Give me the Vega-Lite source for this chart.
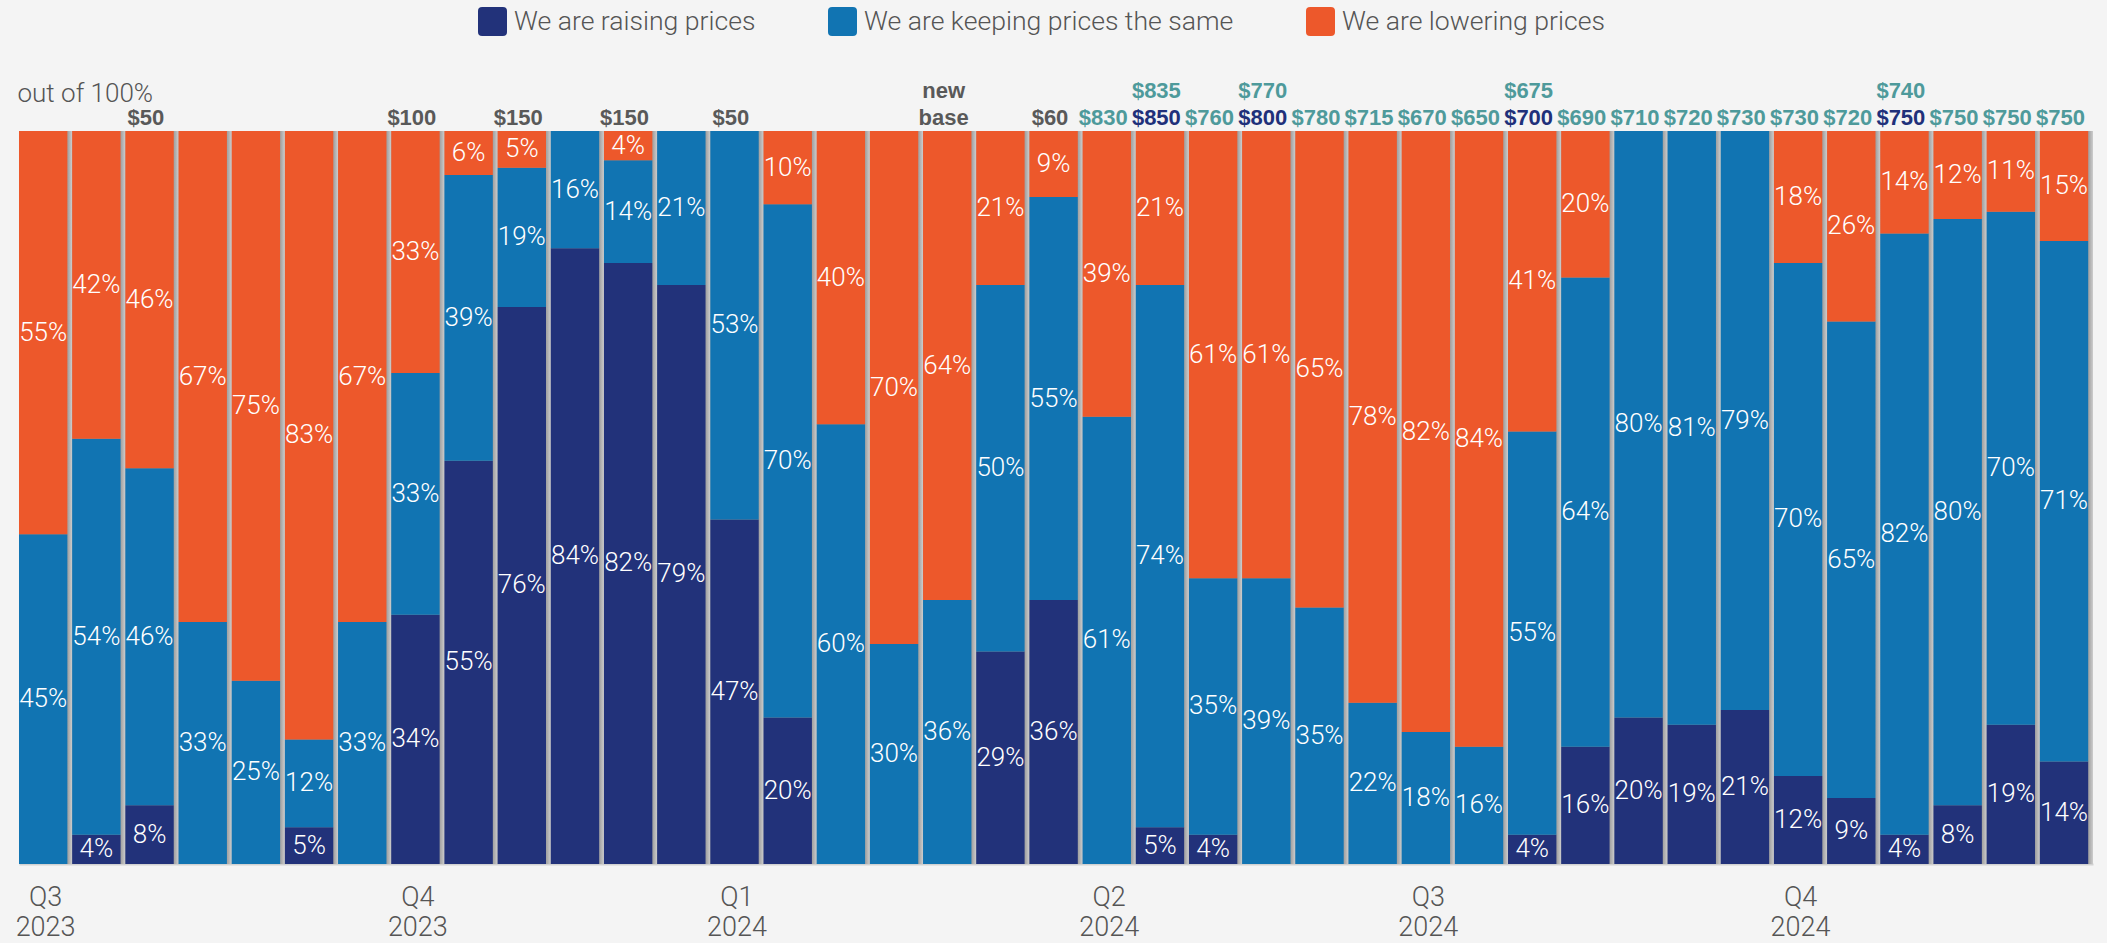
{
  "$schema": "https://vega.github.io/schema/vega-lite/v6.json",
  "autosize": {"type": "none"},
  "padding": {"left": 19, "top": 131, "right": 14, "bottom": 79},
  "width": 2074,
  "height": 733,
  "background": "#f4f4f4",
  "datasets": {
    "categories": [
      {"status": "raising", "rank": 1, "name": "We are raising prices"},
      {"status": "keeping", "rank": 2, "name": "We are keeping prices the same"},
      {"status": "lowering", "rank": 3, "name": "We are lowering prices"}
    ],
    "bars": [
      {"bar": 1, "raising": 0, "keeping": 0.45, "lowering": 0.55, "quarter": "Q3\n2023"},
      {"bar": 2, "raising": 0.04, "keeping": 0.54, "lowering": 0.42},
      {"bar": 3, "raising": 0.08, "keeping": 0.46, "lowering": 0.46, "price": "$50", "priceType": "increase"},
      {"bar": 4, "raising": 0, "keeping": 0.33, "lowering": 0.67},
      {"bar": 5, "raising": 0, "keeping": 0.25, "lowering": 0.75},
      {"bar": 6, "raising": 0.05, "keeping": 0.12, "lowering": 0.83},
      {"bar": 7, "raising": 0, "keeping": 0.33, "lowering": 0.67},
      {"bar": 8, "raising": 0.34, "keeping": 0.33, "lowering": 0.33, "price": "$100", "priceType": "increase", "quarter": "Q4\n2023"},
      {"bar": 9, "raising": 0.55, "keeping": 0.39, "lowering": 0.06},
      {"bar": 10, "raising": 0.76, "keeping": 0.19, "lowering": 0.05, "price": "$150", "priceType": "increase"},
      {"bar": 11, "raising": 0.84, "keeping": 0.16, "lowering": 0},
      {"bar": 12, "raising": 0.82, "keeping": 0.14, "lowering": 0.04, "price": "$150", "priceType": "increase"},
      {"bar": 13, "raising": 0.79, "keeping": 0.21, "lowering": 0},
      {"bar": 14, "raising": 0.47, "keeping": 0.53, "lowering": 0, "price": "$50", "priceType": "increase", "quarter": "Q1\n2024"},
      {"bar": 15, "raising": 0.20, "keeping": 0.70, "lowering": 0.10},
      {"bar": 16, "raising": 0, "keeping": 0.60, "lowering": 0.40},
      {"bar": 17, "raising": 0, "keeping": 0.30, "lowering": 0.70},
      {"bar": 18, "raising": 0, "keeping": 0.36, "lowering": 0.64, "price": "base", "priceType": "increase", "price2": "new", "price2Type": "increase"},
      {"bar": 19, "raising": 0.29, "keeping": 0.50, "lowering": 0.21},
      {"bar": 20, "raising": 0.36, "keeping": 0.55, "lowering": 0.09, "price": "$60", "priceType": "increase"},
      {"bar": 21, "raising": 0, "keeping": 0.61, "lowering": 0.39, "price": "$830", "priceType": "price", "quarter": "Q2\n2024"},
      {"bar": 22, "raising": 0.05, "keeping": 0.74, "lowering": 0.21, "price": "$850", "priceType": "msrp", "price2": "$835", "price2Type": "price"},
      {"bar": 23, "raising": 0.04, "keeping": 0.35, "lowering": 0.61, "price": "$760", "priceType": "price"},
      {"bar": 24, "raising": 0, "keeping": 0.39, "lowering": 0.61, "price": "$800", "priceType": "msrp", "price2": "$770", "price2Type": "price"},
      {"bar": 25, "raising": 0, "keeping": 0.35, "lowering": 0.65, "price": "$780", "priceType": "price"},
      {"bar": 26, "raising": 0, "keeping": 0.22, "lowering": 0.78, "price": "$715", "priceType": "price"},
      {"bar": 27, "raising": 0, "keeping": 0.18, "lowering": 0.82, "price": "$670", "priceType": "price", "quarter": "Q3\n2024"},
      {"bar": 28, "raising": 0, "keeping": 0.16, "lowering": 0.84, "price": "$650", "priceType": "price"},
      {"bar": 29, "raising": 0.04, "keeping": 0.55, "lowering": 0.41, "price": "$700", "priceType": "msrp", "price2": "$675", "price2Type": "price"},
      {"bar": 30, "raising": 0.16, "keeping": 0.64, "lowering": 0.20, "price": "$690", "priceType": "price"},
      {"bar": 31, "raising": 0.20, "keeping": 0.80, "lowering": 0, "price": "$710", "priceType": "price"},
      {"bar": 32, "raising": 0.19, "keeping": 0.81, "lowering": 0, "price": "$720", "priceType": "price"},
      {"bar": 33, "raising": 0.21, "keeping": 0.79, "lowering": 0, "price": "$730", "priceType": "price"},
      {"bar": 34, "raising": 0.12, "keeping": 0.70, "lowering": 0.18, "price": "$730", "priceType": "price", "quarter": "Q4\n2024"},
      {"bar": 35, "raising": 0.09, "keeping": 0.65, "lowering": 0.26, "price": "$720", "priceType": "price"},
      {"bar": 36, "raising": 0.04, "keeping": 0.82, "lowering": 0.14, "price": "$750", "priceType": "msrp", "price2": "$740", "price2Type": "price"},
      {"bar": 37, "raising": 0.08, "keeping": 0.80, "lowering": 0.12, "price": "$750", "priceType": "price"},
      {"bar": 38, "raising": 0.19, "keeping": 0.70, "lowering": 0.11, "price": "$750", "priceType": "price"},
      {"bar": 39, "raising": 0.14, "keeping": 0.71, "lowering": 0.15, "price": "$750", "priceType": "price"}
    ]
  },
  "data": {"name": "bars"},
  "layer": [
    {
      "mark": {
        "type": "bar",
        "color": {
          "gradient": "linear", "x1": 0, "x2": 1, "y1": 0, "y2": 0,
          "stops": [
            {"offset": 0, "color": "#a0a0a0"},
            {"offset": 0.9, "color": "#a0a0a0"},
            {"offset": 0.93, "color": "#a8a8a8"},
            {"offset": 1, "color": "#cdcdcd"}
          ]
        }
      },
      "encoding": {
        "x": {
          "field": "bar", "type": "ordinal",
          "scale": {"paddingInner": 0, "paddingOuter": 0},
          "axis": {"labels": false, "ticks": false, "title": null, "domain": true, "domainColor": "#d2d2d2", "domainWidth": 2, "grid": false}
        },
        "y": {
          "datum": 1, "type": "quantitative",
          "scale": {"domain": [0, 1], "nice": false},
          "axis": {
            "labels": false, "ticks": false, "domain": false, "grid": false,
            "title": "out of 100%", "titleAngle": 0, "titleAlign": "left", "titleBaseline": "alphabetic",
            "titleX": -2, "titleY": -30, "titleFont": "Roboto", "titleFontWeight": 300, "titleFontSize": 26, "titleColor": "#555555"
          }
        }
      }
    },
    {
      "transform": [
        {"fold": ["raising", "keeping", "lowering"], "as": ["status", "share"]},
        {"lookup": "status", "from": {"data": {"name": "categories"}, "key": "status", "fields": ["rank", "name"]}}
      ],
      "mark": {"type": "bar", "width": {"band": 0.91}, "xOffset": -2.4},
      "encoding": {
        "x": {"field": "bar", "type": "ordinal"},
        "y": {"field": "share", "type": "quantitative", "stack": "zero"},
        "order": {"field": "rank", "type": "quantitative", "sort": "ascending"},
        "color": {
          "field": "name", "type": "nominal",
          "scale": {
            "domain": ["We are raising prices", "We are keeping prices the same", "We are lowering prices"],
            "range": ["#22327a", "#1174b2", "#ed582b"]
          },
          "legend": {
            "title": null, "orient": "none", "legendX": 459, "legendY": -124, "direction": "horizontal",
            "padding": 0, "columnPadding": 72, "labelOffset": 7,
            "symbolType": "M-1,-0.72Q-1,-1,-0.72,-1L0.72,-1Q1,-1,1,-0.72L1,0.72Q1,1,0.72,1L-0.72,1Q-1,1,-1,0.72Z",
            "symbolSize": 841, "symbolStrokeWidth": 0, "symbolOpacity": 1,
            "labelFont": "Roboto", "labelFontWeight": 300, "labelFontSize": 26.6, "labelColor": "#555555", "labelLimit": 600
          }
        }
      }
    },
    {
      "transform": [
        {"fold": ["raising", "keeping", "lowering"], "as": ["status", "share"]},
        {"lookup": "status", "from": {"data": {"name": "categories"}, "key": "status", "fields": ["rank", "name"]}},
        {"filter": "datum.share > 0"}
      ],
      "mark": {"type": "text", "xOffset": -2.4, "baseline": "middle", "align": "center", "font": "Roboto", "fontWeight": 300, "fontSize": 26, "color": "#ffffff"},
      "encoding": {
        "x": {"field": "bar", "type": "ordinal"},
        "y": {"field": "share", "type": "quantitative", "stack": "zero", "bandPosition": 0.5},
        "detail": {"field": "name", "type": "nominal"},
        "order": {"field": "rank", "type": "quantitative", "sort": "ascending"},
        "text": {"field": "share", "type": "quantitative", "format": ".0%"}
      }
    },
    {
      "transform": [{"filter": "datum.price"}],
      "mark": {"type": "text", "dx": -6, "dy": -6, "baseline": "alphabetic", "align": "center", "font": "Liberation Sans", "fontWeight": "bold", "fontSize": 22},
      "encoding": {
        "x": {"field": "bar", "type": "ordinal"},
        "y": {"datum": 1, "type": "quantitative"},
        "text": {"field": "price", "type": "nominal"},
        "color": {"field": "priceType", "type": "nominal", "scale": {"domain": ["increase", "price", "msrp"], "range": ["#595959", "#4e9a9b", "#20307a"]}, "legend": null}
      }
    },
    {
      "transform": [{"filter": "datum.price2"}],
      "mark": {"type": "text", "dx": -6, "dy": -33, "baseline": "alphabetic", "align": "center", "font": "Liberation Sans", "fontWeight": "bold", "fontSize": 22},
      "encoding": {
        "x": {"field": "bar", "type": "ordinal"},
        "y": {"datum": 1, "type": "quantitative"},
        "text": {"field": "price2", "type": "nominal"},
        "color": {"field": "price2Type", "type": "nominal", "scale": {"domain": ["increase", "price", "msrp"], "range": ["#595959", "#4e9a9b", "#20307a"]}, "legend": null}
      }
    },
    {
      "transform": [{"filter": "datum.quarter"}],
      "mark": {"type": "text", "dy": 42, "lineBreak": "\n", "lineHeight": 30, "baseline": "alphabetic", "align": "center", "font": "Roboto", "fontWeight": 300, "fontSize": 27, "color": "#555555"},
      "encoding": {
        "x": {"field": "bar", "type": "ordinal"},
        "y": {"datum": 0, "type": "quantitative"},
        "text": {"field": "quarter", "type": "nominal"}
      }
    }
  ],
  "resolve": {"scale": {"color": "independent"}},
  "config": {"view": {"stroke": null}}
}
